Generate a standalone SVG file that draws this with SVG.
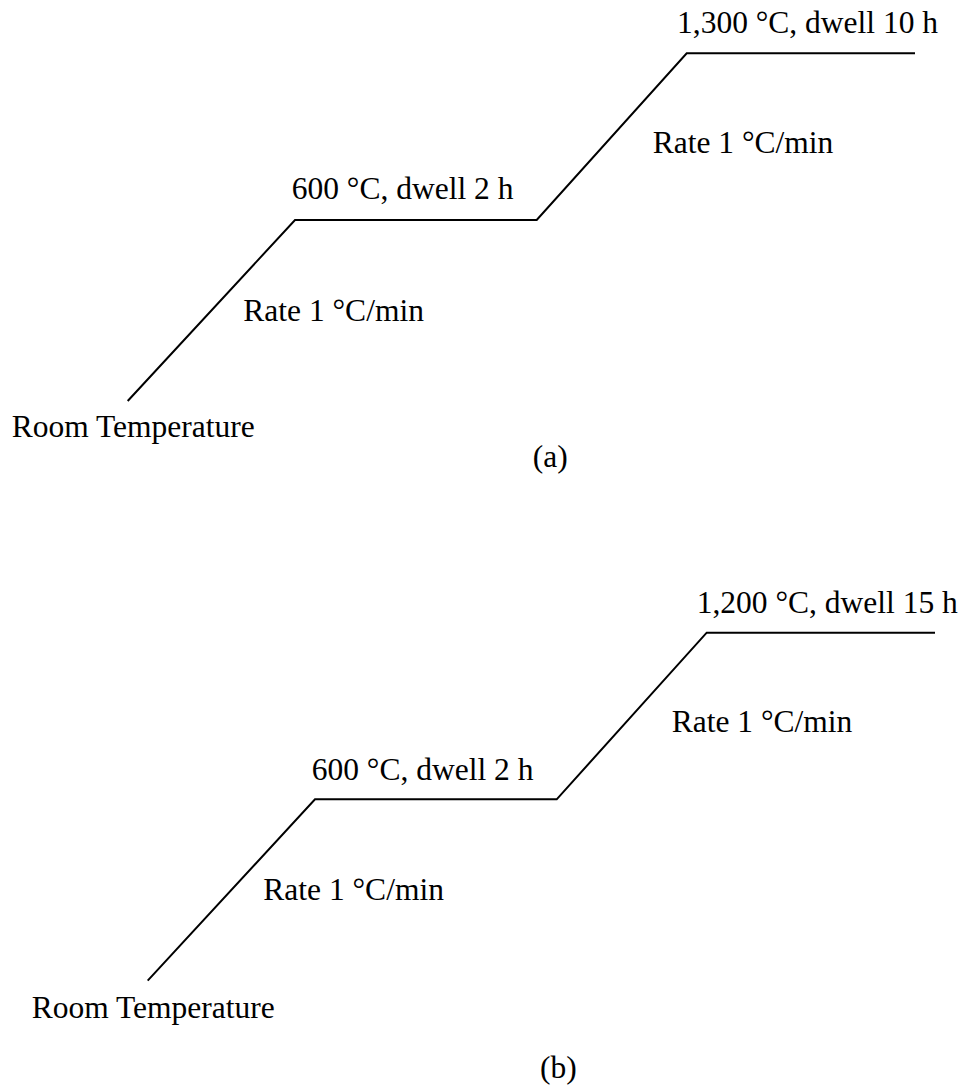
<svg xmlns="http://www.w3.org/2000/svg" width="965" height="1088" viewBox="0 0 965 1088">
  <style>
    .lbl { font-family: "Liberation Serif", "Times New Roman", serif; font-size: 31.5px; fill: #000; }
    .curve { fill: none; stroke: #000; stroke-width: 2; stroke-linejoin: miter; }
  </style>
  <rect width="965" height="1088" fill="#fff"/>

  <!-- (a) firing schedule -->
  <g id="schedule-a">
    <g id="connectors-a">
      <polyline class="curve" points="127.7,401 295,220 536.7,220 686.7,53.3 915,53.3"/>
    </g>
    <g id="a-room"><text class="lbl" x="11.7" y="436.7">Room Temperature</text></g>
    <g id="a-ramp1"><text class="lbl" x="243.3" y="320.7">Rate 1 °C/min</text></g>
    <g id="a-dwell1"><text class="lbl" x="291.7" y="199.3">600 °C, dwell 2 h</text></g>
    <g id="a-ramp2"><text class="lbl" x="652.7" y="153.3">Rate 1 °C/min</text></g>
    <g id="a-dwell2"><text class="lbl" x="677" y="33">1,300 °C, dwell 10 h</text></g>
    <g id="a-caption"><text class="lbl" x="532.7" y="466.7">(a)</text></g>
  </g>

  <!-- (b) firing schedule -->
  <g id="schedule-b">
    <g id="connectors-b">
      <polyline class="curve" points="147.7,980.6 315,799.3 556.7,799.3 706.7,632.7 935,632.7"/>
    </g>
    <g id="b-room"><text class="lbl" x="31.7" y="1017.5">Room Temperature</text></g>
    <g id="b-ramp1"><text class="lbl" x="263.3" y="899.5">Rate 1 °C/min</text></g>
    <g id="b-dwell1"><text class="lbl" x="311.7" y="779.5">600 °C, dwell 2 h</text></g>
    <g id="b-ramp2"><text class="lbl" x="671.7" y="731.7">Rate 1 °C/min</text></g>
    <g id="b-dwell2"><text class="lbl" x="696.7" y="613">1,200 °C, dwell 15 h</text></g>
    <g id="b-caption"><text class="lbl" x="540" y="1078">(b)</text></g>
  </g>
</svg>
